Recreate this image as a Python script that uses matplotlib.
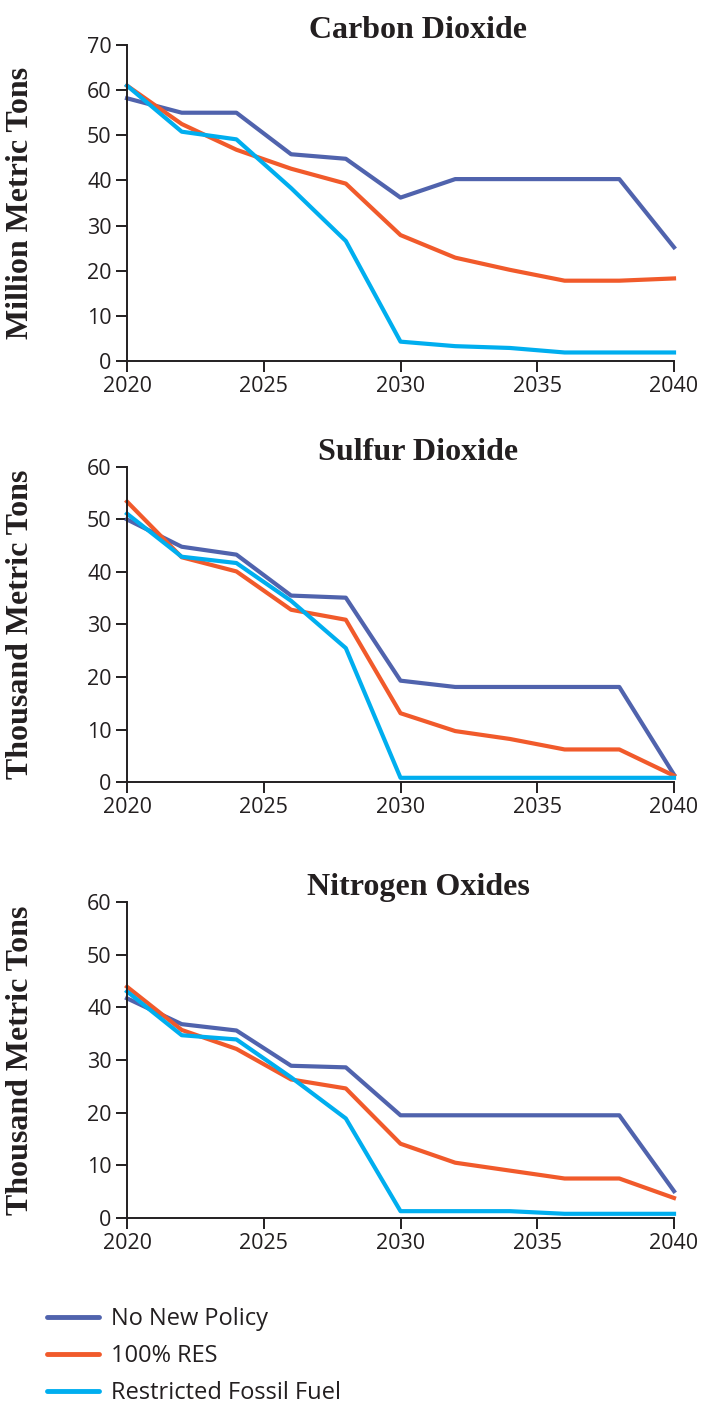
#!/usr/bin/env python3

import matplotlib
matplotlib.use("Agg")
import matplotlib.pyplot as plt
from matplotlib.lines import Line2D

years = [2020, 2022, 2024, 2026, 2028, 2030, 2032, 2034, 2036, 2038, 2040]

scenarios = ["No New Policy", "100% RES", "Restricted Fossil Fuel"]
colors = ["#5063ad", "#f15a2b", "#00aeef"]

# Carbon dioxide, million metric tons
co2_no_new_policy = [58.2, 55.0, 55.0, 45.8, 44.8, 36.2, 40.3, 40.3, 40.3, 40.3, 25.2]
co2_res = [61.0, 52.5, 46.8, 42.6, 39.3, 27.9, 22.9, 20.2, 17.8, 17.8, 18.3]
co2_restricted = [61.0, 50.8, 49.1, 38.3, 26.6, 4.3, 3.3, 2.9, 1.9, 1.9, 1.9]

# Sulfur dioxide, thousand metric tons
so2_no_new_policy = [50.0, 44.8, 43.3, 35.5, 35.1, 19.3, 18.1, 18.1, 18.1, 18.1, 1.4]
so2_res = [53.4, 42.8, 40.1, 32.8, 30.9, 13.1, 9.7, 8.2, 6.2, 6.2, 1.2]
so2_restricted = [51.1, 42.9, 41.7, 34.5, 25.5, 0.8, 0.8, 0.8, 0.8, 0.8, 0.8]

# Nitrogen oxides, thousand metric tons
nox_no_new_policy = [41.7, 36.8, 35.6, 28.9, 28.6, 19.5, 19.5, 19.5, 19.5, 19.5, 5.1]
nox_res = [43.9, 35.7, 32.1, 26.3, 24.6, 14.1, 10.5, 9.0, 7.5, 7.5, 3.8]
nox_restricted = [43.0, 34.7, 33.9, 26.7, 18.9, 1.3, 1.3, 1.3, 0.8, 0.8, 0.8]

panels = [
  ("Carbon Dioxide", "Million Metric Tons", 70, [co2_no_new_policy, co2_res, co2_restricted]),
  ("Sulfur Dioxide", "Thousand Metric Tons", 60, [so2_no_new_policy, so2_res, so2_restricted]),
  ("Nitrogen Oxides", "Thousand Metric Tons", 60, [nox_no_new_policy, nox_res, nox_restricted]),
]

# axes boxes in figure fractions: left, bottom, width, height
boxes = [
  (0.1812, 0.7432, 0.7803, 0.2248),
  (0.1812, 0.4438, 0.7803, 0.2241),
  (0.1812, 0.1337, 0.7803, 0.2248),
]

SANS = ["Open Sans", "DejaVu Sans"]
SERIF = ["Liberation Serif", "DejaVu Serif"]
AXIS_COLOR = "#231f20"

fig = plt.figure(figsize=(7.01, 14.06), dpi=100)

for (title, ylabel, ymax, series), box in zip(panels, boxes):
  ax = fig.add_axes(box)
  for values, color, name in zip(series, colors, scenarios):
    ax.plot(years, values, color=color, lw=3, solid_joinstyle="round", label=name, clip_on=False)

  ax.set_xlim(2020, 2040)
  ax.set_ylim(0, ymax)
  ax.set_xticks([2020, 2025, 2030, 2035, 2040])
  ax.set_yticks(range(0, ymax + 1, 10))

  for side in ("top", "right"):
    ax.spines[side].set_visible(False)
  for side in ("left", "bottom"):
    ax.spines[side].set_color(AXIS_COLOR)
    ax.spines[side].set_linewidth(1.4)

  ax.tick_params(axis="both", direction="out", length=8, width=1.4, color=AXIS_COLOR,
                 labelcolor=AXIS_COLOR, labelsize=15.5, pad=3)
  for lab in ax.get_xticklabels() + ax.get_yticklabels():
    lab.set_family(SANS)
    lab.set_fontweight("medium")

  ax.set_title(title, x=0.532, pad=5, fontsize=23, fontweight="bold", family=SERIF, color=AXIS_COLOR)
  ax.set_ylabel(ylabel, fontsize=23, fontweight="bold", family=SERIF, color=AXIS_COLOR)
  ax.yaxis.set_label_coords(-0.168, 0.5)

handles = [Line2D([0], [0], color=c, lw=3.5, solid_capstyle="round") for c in colors]
fig.legend(handles, scenarios, loc="upper left", bbox_to_anchor=(0.037, 0.0855), frameon=False,
           handlelength=2.2, handletextpad=0.5, labelspacing=0.55,
           prop={"family": SANS, "size": 17}, labelcolor=AXIS_COLOR)

fig.savefig("out.png", dpi=100)
